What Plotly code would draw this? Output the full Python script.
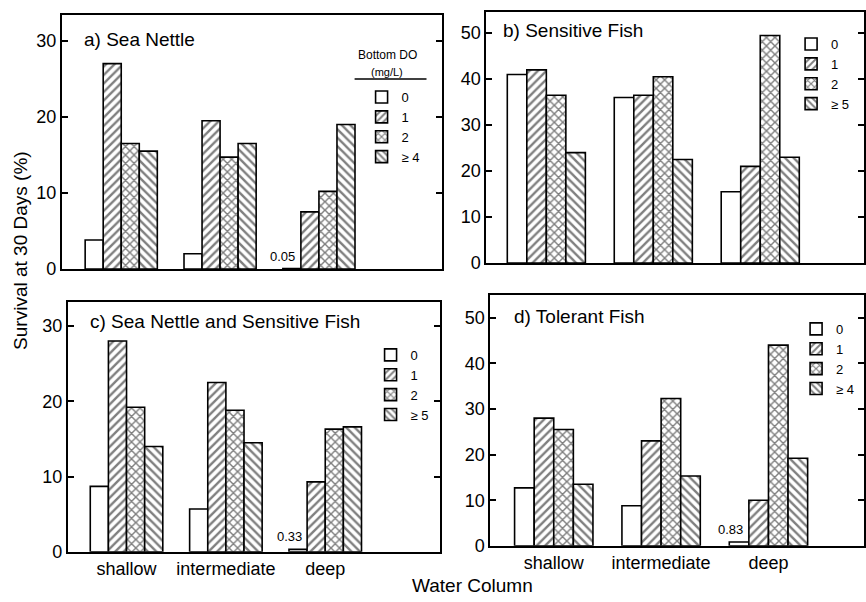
import plotly.graph_objects as go
from plotly.subplots import make_subplots

columns = ["shallow", "intermediate", "deep"]
do_labels_4 = ["0", "1", "2", "≥ 4"]
do_labels_5 = ["0", "1", "2", "≥ 5"]

# a) Sea Nettle
a_do0 = [3.8, 2.0, 0.05]
a_do1 = [27.0, 19.5, 7.5]
a_do2 = [16.5, 14.7, 10.2]
a_do3 = [15.5, 16.5, 19.0]
# b) Sensitive Fish
b_do0 = [41.0, 36.0, 15.5]
b_do1 = [42.0, 36.5, 21.0]
b_do2 = [36.5, 40.5, 49.5]
b_do3 = [24.0, 22.5, 23.0]
# c) Sea Nettle and Sensitive Fish
c_do0 = [8.7, 5.7, 0.33]
c_do1 = [28.0, 22.5, 9.3]
c_do2 = [19.2, 18.8, 16.3]
c_do3 = [14.0, 14.5, 16.6]
# d) Tolerant Fish
d_do0 = [12.7, 8.8, 0.83]
d_do1 = [28.0, 23.0, 10.0]
d_do2 = [25.5, 32.3, 44.0]
d_do3 = [13.5, 15.3, 19.2]

panel_titles = ["a) Sea Nettle", "b) Sensitive Fish",
                "c) Sea Nettle and Sensitive Fish", "d) Tolerant Fish"]

W, H = 866, 602
YF = 612 / 602  # vertical correction for the page capture
FONT = "Liberation Sans, Arial, Helvetica, sans-serif"
shapes_pat = ["", "/", "x", "\\"]
pat_size = [6, 6, 6, 6]
pat_solid = [0.2, 0.4, 0.42, 0.4]
BARGAP = 0.27
NSER = 4

fig = make_subplots(rows=2, cols=2)

panels = [
    (1, 1, [a_do0, a_do1, a_do2, a_do3], do_labels_4, "legend", "x", "y"),
    (1, 2, [b_do0, b_do1, b_do2, b_do3], do_labels_5, "legend2", "x2", "y2"),
    (2, 1, [c_do0, c_do1, c_do2, c_do3], do_labels_5, "legend3", "x3", "y3"),
    (2, 2, [d_do0, d_do1, d_do2, d_do3], do_labels_4, "legend4", "x4", "y4"),
]

annotations = []
bar_w = (1 - BARGAP) / NSER
for r, c, series, labels, leg, xr_, yr_ in panels:
    for i, vals in enumerate(series):
        fig.add_trace(go.Bar(
            x=columns, y=vals, name=labels[i], legend=leg,
            marker=dict(color="white",
                        line=dict(color="black", width=1.6),
                        pattern=dict(shape=shapes_pat[i], fgcolor="black",
                                     bgcolor="white", size=pat_size[i],
                                     solidity=pat_solid[i])),
        ), row=r, col=c)
        # small values are labelled above their bar
        for j, v in enumerate(vals):
            if v < 1:
                annotations.append(dict(
                    text=f"{v:g}", xref=xr_, yref=yr_,
                    x=j + (i - (NSER - 1) / 2) * bar_w, y=v,
                    xanchor="center", yanchor="bottom", xshift=-9, yshift=3,
                    showarrow=False, font=dict(size=13, family=FONT, color="black")))

def px_x(p):
    return p / W

def px_y(p):
    return 1 - (p * YF) / H

# domains (pixels): x-left, x-right, y-zero, y-top
geo = {
    1: dict(x=(62, 443), y=(269, 15), yr=33.4, xr=[-0.6, 3.25], dt=10),
    2: dict(x=(487, 865), y=(263, 12), yr=54.6, xr=[-0.56, 2.97], dt=10),
    3: dict(x=(68, 441), y=(552, 302), yr=33.2, xr=[-0.59, 3.16], dt=10),
    4: dict(x=(491, 865), y=(546, 295), yr=55.0, xr=[-0.59, 2.89], dt=10),
}

for k, g in geo.items():
    xa = "xaxis" if k == 1 else f"xaxis{k}"
    ya = "yaxis" if k == 1 else f"yaxis{k}"
    fig.layout[xa].update(
        domain=[px_x(g["x"][0]), px_x(g["x"][1])], range=g["xr"],
        showline=True, mirror=True, linecolor="black", linewidth=2,
        ticks="", showgrid=False, showticklabels=(k >= 3),
        tickfont=dict(size=18, family=FONT, color="black"))
    fig.layout[ya].update(
        domain=[px_y(g["y"][0]), px_y(g["y"][1])], range=[0, g["yr"]],
        showline=True, mirror="ticks", linecolor="black", linewidth=2,
        ticks="inside", ticklen=6, tickwidth=1.5, tickcolor="black",
        dtick=g["dt"], showgrid=False, zeroline=False,
        tickfont=dict(size=18, family=FONT, color="black"))

title_pos = [(82, 40), (502, 31), (88, 322), (513, 317)]
for t, (tx, ty) in zip(panel_titles, title_pos):
    annotations.append(dict(text=t, x=px_x(tx), y=px_y(ty), xref="paper", yref="paper",
                            xanchor="left", yanchor="middle", showarrow=False,
                            font=dict(size=19, family=FONT, color="black")))
annotations.append(dict(text="Bottom DO", x=px_x(388), y=px_y(55), xref="paper", yref="paper",
                        xanchor="center", yanchor="middle",
                        showarrow=False, font=dict(size=12, family=FONT, color="black")))
annotations.append(dict(text="(mg/L)", x=px_x(387), y=px_y(72), xref="paper", yref="paper",
                        xanchor="center", yanchor="middle",
                        showarrow=False, font=dict(size=11, family=FONT, color="black")))
annotations.append(dict(text="Survival at 30 Days (%)", x=px_x(21), y=px_y(250),
                        xref="paper", yref="paper", textangle=-90, showarrow=False,
                        xanchor="center", yanchor="middle",
                        font=dict(size=19, family=FONT, color="black")))
annotations.append(dict(text="Water Column", x=px_x(473), y=px_y(586),
                        xref="paper", yref="paper", showarrow=False,
                        xanchor="center", yanchor="middle",
                        font=dict(size=19, family=FONT, color="black")))

legend_common = dict(bgcolor="rgba(0,0,0,0)", borderwidth=0, xanchor="left", yanchor="top",
                     font=dict(size=13, family=FONT, color="black"), tracegroupgap=0,
                     itemclick=False)
leg_pos = {"legend": (362, 82), "legend2": (792, 29), "legend3": (371, 340), "legend4": (797, 314)}
for name, (lx, ly) in leg_pos.items():
    fig.layout[name] = dict(x=px_x(lx), y=px_y(ly), **legend_common)

fig.update_layout(
    width=W, height=H, margin=dict(l=0, r=0, t=0, b=0),
    paper_bgcolor="white", plot_bgcolor="white",
    barmode="group", bargap=BARGAP, bargroupgap=0,
    annotations=annotations,
    shapes=[dict(type="line", xref="paper", yref="paper",
                 x0=px_x(355), x1=px_x(427), y0=px_y(79), y1=px_y(79),
                 line=dict(color="black", width=1.5))],
    font=dict(family=FONT, color="black"),
    hovermode=False,
)

fig.write_html("out.html", config={"displayModeBar": False},
               post_script="document.body.style.margin='0px';document.body.style.overflow='hidden';")
